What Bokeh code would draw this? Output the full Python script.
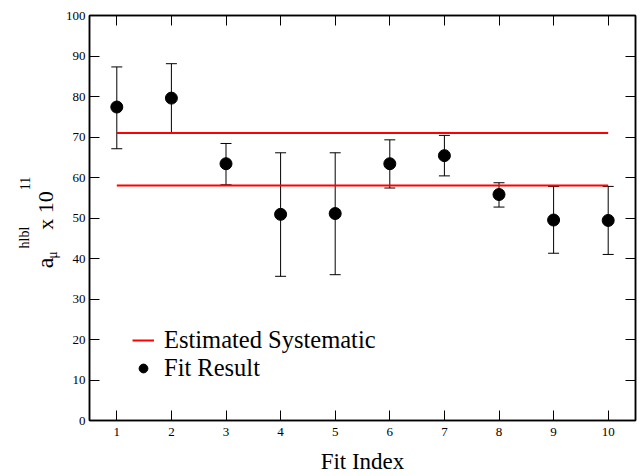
import math
from bokeh.plotting import figure
from bokeh.layouts import row
from bokeh.models import (Range1d, FixedTicker, LinearAxis, Whisker, ColumnDataSource,
                          Label, Legend, LegendItem, CustomJSTickFormatter, TeeHead)
from bokeh.embed import file_html
from bokeh.resources import INLINE

# ---- data ----
fit_index = [1, 2, 3, 4, 5, 6, 7, 8, 9, 10]
fit_value = [77.4, 79.6, 63.4, 50.9, 51.1, 63.4, 65.4, 55.8, 49.5, 49.4]
err_upper = [87.3, 88.1, 68.4, 66.1, 66.1, 69.3, 70.4, 58.7, 57.8, 57.8]
err_lower = [67.1, 71.0, 58.2, 35.6, 36.0, 57.4, 60.4, 52.7, 41.3, 41.0]

sys_x = [1, 10]
sys_high = [71.0, 71.0]
sys_low = [58.0, 58.0]

x_ticks = [1, 2, 3, 4, 5, 6, 7, 8, 9, 10]
y_ticks = [0, 10, 20, 30, 40, 50, 60, 70, 80, 90, 100]

SERIF = "Liberation Serif"
TOTAL_W, TOTAL_H = 640, 476
LAB_W = 62
FRAME_TOP, FRAME_BOTTOM = 15, 420

# ---- main plot ----
p = figure(width=TOTAL_W - LAB_W, height=TOTAL_H, output_backend="svg", toolbar_location=None,
           x_range=Range1d(0.5, 10.5), y_range=Range1d(0, 100),
           x_axis_type=None, y_axis_type=None,
           min_border_left=25, min_border_right=5, min_border_top=FRAME_TOP,
           min_border_bottom=TOTAL_H - FRAME_BOTTOM)
p.xgrid.visible = False
p.ygrid.visible = False
p.outline_line_color = "black"
p.outline_line_width = 1.5
p.background_fill_color = "white"
p.border_fill_color = "white"

bottom_ax = LinearAxis(ticker=FixedTicker(ticks=x_ticks))
top_ax = LinearAxis(ticker=FixedTicker(ticks=x_ticks))
left_ax = LinearAxis(ticker=FixedTicker(ticks=y_ticks))
right_ax = LinearAxis(ticker=FixedTicker(ticks=y_ticks))
p.add_layout(bottom_ax, "below")
p.add_layout(top_ax, "above")
p.add_layout(left_ax, "left")
p.add_layout(right_ax, "right")

for ax in [bottom_ax, top_ax, left_ax, right_ax]:
    ax.axis_line_width = 1.5
    ax.axis_line_color = "black"
    ax.major_tick_in = 10
    ax.major_tick_out = 0
    ax.major_tick_line_width = 1
    ax.major_tick_line_color = "black"
    ax.minor_tick_line_color = None
    ax.major_label_text_font = SERIF
    ax.major_label_text_font_size = "13px"
    ax.major_label_text_color = "black"

for ax in [top_ax, right_ax]:
    ax.formatter = CustomJSTickFormatter(code="return ''")
    ax.major_label_standoff = 0

left_ax.major_label_standoff = 4
bottom_ax.major_label_standoff = 7
bottom_ax.axis_label = "Fit Index"
bottom_ax.axis_label_text_font = SERIF
bottom_ax.axis_label_text_font_size = "23px"
bottom_ax.axis_label_text_font_style = "normal"
bottom_ax.axis_label_text_color = "black"
bottom_ax.axis_label_standoff = 10

src = ColumnDataSource(dict(x=fit_index, y=fit_value, upper=err_upper, lower=err_lower))

whisk = Whisker(source=src, base="x", upper="upper", lower="lower",
                line_color="black", line_width=1,
                upper_head=TeeHead(size=11, line_color="black", line_width=1),
                lower_head=TeeHead(size=11, line_color="black", line_width=1))
p.add_layout(whisk)

sys_r = p.multi_line(xs=[sys_x, sys_x], ys=[sys_high, sys_low], line_color="red", line_width=2)
pts_r = p.scatter("x", "y", source=src, size=12, color="black", marker="circle")

legend = Legend(items=[LegendItem(label="Estimated Systematic", renderers=[sys_r]),
                       LegendItem(label="Fit Result", renderers=[pts_r])],
                location=(43, 38), border_line_color=None, background_fill_alpha=0,
                label_text_font=SERIF, label_text_font_size="24.5px", label_text_color="black",
                glyph_width=22, glyph_height=24, label_standoff=10, padding=0,
                spacing=0, margin=0, label_height=24)
p.add_layout(legend)

# ---- narrow panel holding the rotated y-axis title ----
# (the row aligns this panel's frame with the main frame: y 15..420)
q = figure(width=LAB_W, height=TOTAL_H, output_backend="svg", toolbar_location=None,
           x_axis_type=None, y_axis_type=None, min_border_left=0, min_border_right=0,
           min_border_top=FRAME_TOP, min_border_bottom=TOTAL_H - FRAME_BOTTOM,
           x_range=Range1d(0, LAB_W), y_range=Range1d(0, FRAME_BOTTOM - FRAME_TOP))
q.xgrid.visible = False
q.ygrid.visible = False
q.outline_line_color = None
q.background_fill_color = "white"
q.border_fill_color = "white"

# each piece is placed by its centre (page pixels), rotated to read bottom-to-top
def ylab(text, cx, cy, size):
    lab = Label(x=cx, y=FRAME_BOTTOM - cy, x_units="screen", y_units="screen", text=text,
                angle=math.pi / 2, text_font=SERIF, text_font_size=size, text_color="black",
                text_align="center", text_baseline="middle")
    q.add_layout(lab)

ylab("a", 44, 262.5, "24px")
ylab("\u03bc", 52, 254.5, "14px")
ylab("hlbl", 24, 237, "14px")
ylab("x 10", 44.5, 210, "22px")
ylab("11", 24, 183, "14px")

layout = row(q, p, spacing=0)
open("out.html", "w").write(file_html(layout, INLINE))
